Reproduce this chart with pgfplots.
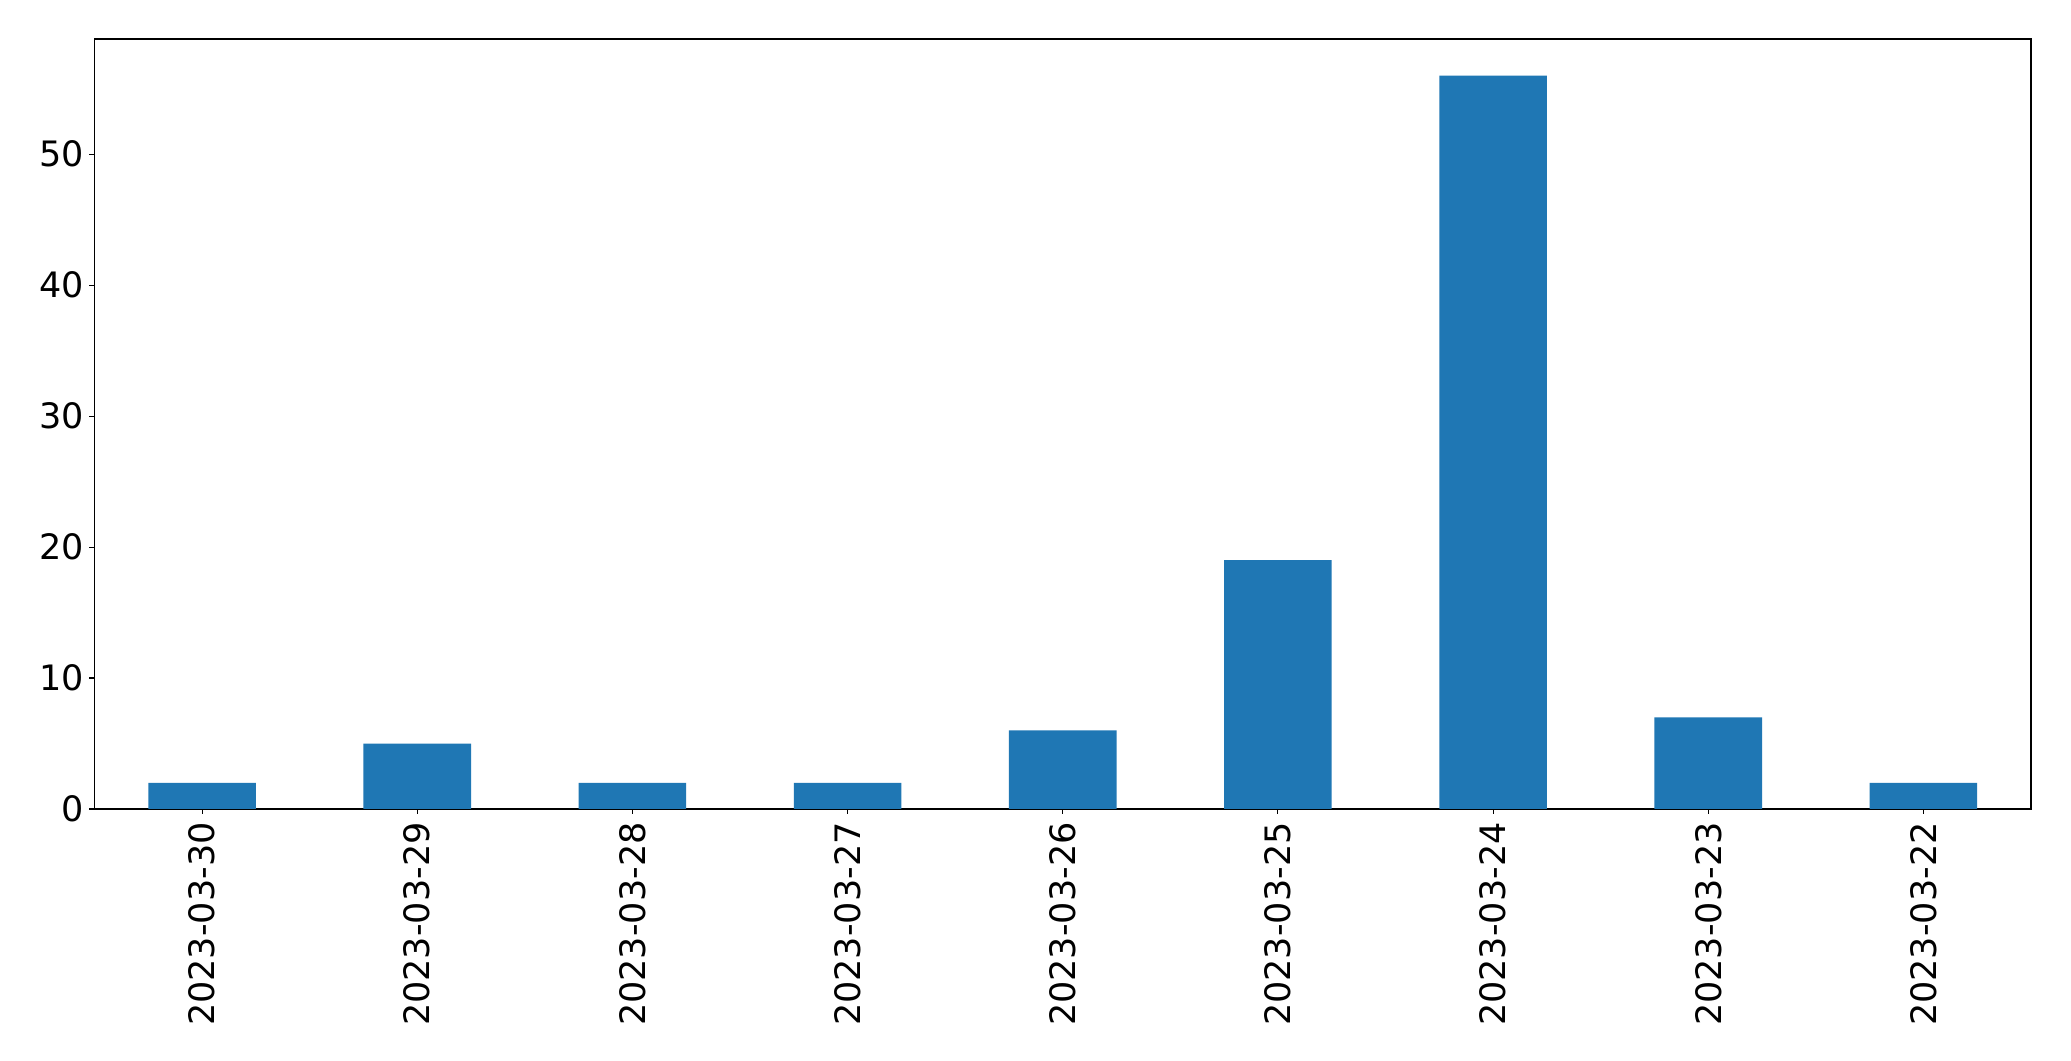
\documentclass[border=0pt]{standalone}
\usepackage{pgfplots}
\pgfplotsset{compat=1.18}
\usepackage{fontspec}
\setmainfont{DejaVu Sans}
\definecolor{mplblue}{HTML}{1F77B4}
\begin{document}
\begin{tikzpicture}
\begin{axis}[
  scale only axis,
  width=968.25pt, height=385pt,
  xmin=-0.5, xmax=8.5, ymin=0, ymax=58.8,
  xtick={0,1,2,3,4,5,6,7,8},
  xticklabels={2023-03-30,2023-03-29,2023-03-28,2023-03-27,2023-03-26,2023-03-25,2023-03-24,2023-03-23,2023-03-22},
  ytick={0,10,20,30,40,50},
  tick align=outside,
  major tick length=2.5pt,
  xtick pos=bottom, ytick pos=left,
  tick style={black, line width=0.55pt},
  axis line style={black, line width=0.55pt},
  /pgf/number format/assume math mode=true,
  ticklabel style={font=\fontsize{17.5}{21}\selectfont},
  yticklabel style={inner sep=2.5pt},
  xticklabel style={rotate=90, anchor=east, inner sep=4pt},
  axis background/.style={fill=white},
]
\addplot[ybar, bar width=0.5, fill=mplblue, draw=none] coordinates {
  (0,2) (1,5) (2,2) (3,2) (4,6) (5,19) (6,56) (7,7) (8,2)
};
\end{axis}
\path[draw=none] ([shift={(-47.25pt,-126pt)}]current axis.south west) rectangle ([shift={(20pt,19.5pt)}]current axis.north east);
\end{tikzpicture}
\end{document}
